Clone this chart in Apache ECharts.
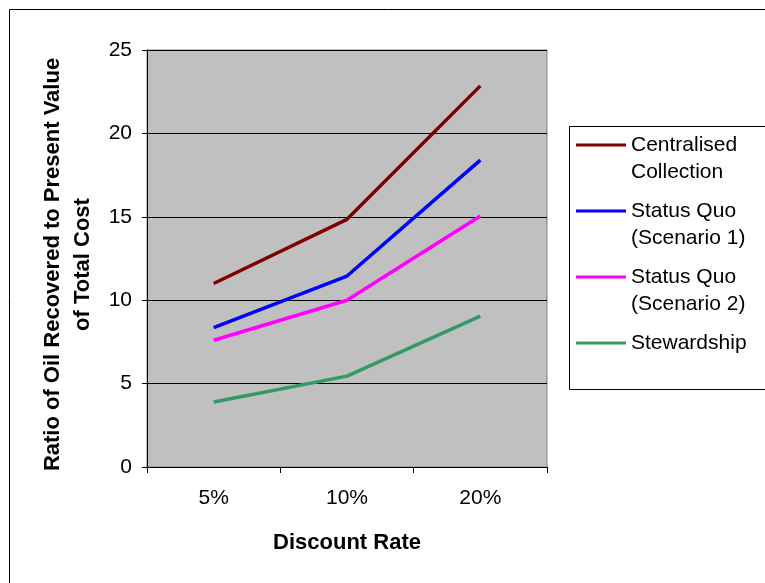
<!DOCTYPE html>
<html>
<head>
<meta charset="utf-8">
<script src="https://cdn.jsdelivr.net/npm/echarts@6/dist/echarts.min.js"></script>
<style>
html,body{margin:0;padding:0;background:#fff;}
#chart{width:765px;height:583px;}
</style>
</head>
<body>
<div id="chart"></div>
<script>
const categories = ['5%', '10%', '20%'];
const centralised = [11.0, 14.85, 22.85];
const statusQuo1 = [8.35, 11.45, 18.4];
const statusQuo2 = [7.6, 10.0, 15.05];
const stewardship = [3.9, 5.45, 9.05];
const seriesNames = ['Centralised Collection', 'Status Quo (Scenario 1)', 'Status Quo (Scenario 2)', 'Stewardship'];
const legendLines = [['Centralised', 'Collection'], ['Status Quo', '(Scenario 1)'], ['Status Quo', '(Scenario 2)'], ['Stewardship']];
const seriesColors = ['#800000', '#0000ff', '#ff00ff', '#339966'];
const yTitle = 'Ratio of Oil Recovered to Present Value\nof Total Cost';
const xTitle = 'Discount Rate';

const FONT = '"Liberation Sans", Arial, sans-serif';
const values = [centralised, statusQuo1, statusQuo2, stewardship];
const NB = '\u00a0';

const chart = echarts.init(document.getElementById('chart'), null, {renderer: 'canvas'});
const option = {
  backgroundColor: '#ffffff',
  animation: false,
  graphic: [
    {type: 'rect', silent: true, z: -10, shape: {x: 9.5, y: 9.5, width: 800, height: 600}, style: {fill: '#fff', stroke: '#000', lineWidth: 1}},
    {type: 'rect', silent: true, z: -5, shape: {x: 569.5, y: 126.5, width: 260, height: 263}, style: {fill: '#fff', stroke: '#000', lineWidth: 1}}
  ],
  grid: {
    left: 147, right: 218, top: 50, bottom: 116,
    show: true, backgroundColor: '#c0c0c0', borderColor: '#808080', borderWidth: 1
  },
  legend: {
    orient: 'vertical',
    left: 576, top: 104.5,
    padding: 0,
    itemWidth: 50, itemHeight: 3,
    itemGap: -15,
    icon: 'rect',
    selectedMode: false,
    textStyle: {fontFamily: FONT, fontSize: 21, color: '#000', lineHeight: 27},
    formatter: function (name) {
      const lines = legendLines[seriesNames.indexOf(name)];
      return lines.length === 2 ? [NB, lines[0], lines[1]].join('\n') : [NB, lines[0], NB].join('\n');
    },
    data: seriesNames
  },
  xAxis: {
    type: 'category',
    data: categories,
    boundaryGap: true,
    name: xTitle,
    nameLocation: 'middle',
    nameGap: 65,
    nameTextStyle: {fontFamily: FONT, fontSize: 22, fontWeight: 'bold', color: '#000'},
    axisLine: {lineStyle: {color: '#000', width: 1}},
    axisTick: {show: true, length: 6, lineStyle: {color: '#000'}},
    axisLabel: {fontFamily: FONT, fontSize: 21, color: '#000', margin: 21},
    splitLine: {show: false}
  },
  yAxis: {
    type: 'value',
    min: 0, max: 25, interval: 5,
    name: yTitle,
    nameLocation: 'middle',
    nameRotate: 90,
    nameGap: 46,
    nameTextStyle: {fontFamily: FONT, fontSize: 22, fontWeight: 'bold', color: '#000', lineHeight: 30, padding: [0, 12, 0, 0]},
    axisLine: {show: true, lineStyle: {color: '#000', width: 1}},
    axisTick: {show: true, length: 5, lineStyle: {color: '#000'}},
    axisLabel: {fontFamily: FONT, fontSize: 21, color: '#000', margin: 15},
    splitLine: {show: true, lineStyle: {color: '#000', width: 1}}
  },
  series: values.map((v, i) => ({
    name: seriesNames[i],
    type: 'line',
    data: v,
    showSymbol: false,
    symbol: 'none',
    color: seriesColors[i],
    lineStyle: {color: seriesColors[i], width: 3.5}
  }))
};
chart.setOption(option);
</script>
</body>
</html>
